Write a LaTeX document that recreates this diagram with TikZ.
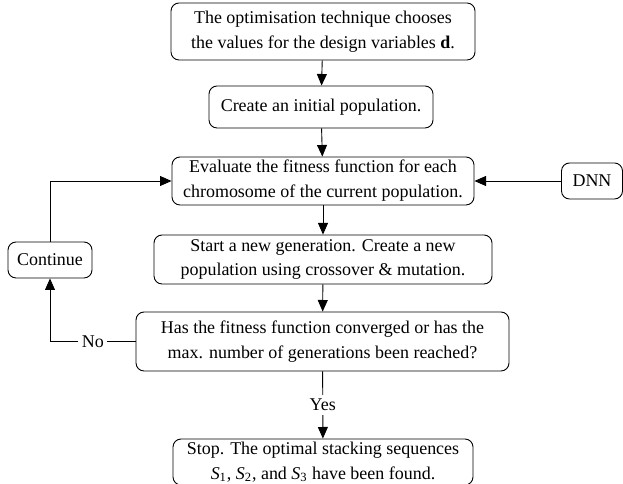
\documentclass[tikz,border=0pt]{standalone}
\usepackage{fontspec}
\setmainfont{Liberation Serif}
\usetikzlibrary{arrows.meta}
\begin{document}
\begin{tikzpicture}[x=0.5625pt,y=-0.5625pt,
  box/.style={draw,rounded corners=4.5pt,line width=0.5pt,align=center,inner sep=0pt,font=\fontsize{10.1}{14}\selectfont},
  arr/.style={-{Triangle[length=6.5pt,width=5.6pt]},line width=0.5pt},
  lab/.style={fill=white,inner sep=2pt,font=\fontsize{10.1}{14}\selectfont}]
\useasboundingbox (0,0) rectangle (623,484);
\node[box,minimum width=304*0.5625pt,minimum height=57*0.5625pt] (b1) at (323,31.5)
  {The optimisation technique chooses\\the values for the design variables \textbf{d}.};
\node[box,minimum width=224*0.5625pt,minimum height=42*0.5625pt] (b2) at (321,107)
  {Create an initial population.};
\node[box,minimum width=302*0.5625pt,minimum height=48*0.5625pt] (b3) at (323,181)
  {Evaluate the fitness function for each\\chromosome of the current population.};
\node[box,minimum width=338*0.5625pt,minimum height=49*0.5625pt] (b4) at (323,259.5)
  {Start a new generation. Create a new\\population using crossover \& mutation.};
\node[box,minimum width=373*0.5625pt,minimum height=59*0.5625pt] (b5) at (322.5,341.5)
  {Has the fitness function converged or has the\\max. number of generations been reached?};
\node[box,minimum width=300*0.5625pt,minimum height=46*0.5625pt] (b6) at (323,462)
  {Stop. The optimal stacking sequences\\\textit{S}\textsubscript{1}, \textit{S}\textsubscript{2}, and \textit{S}\textsubscript{3} have been found.};
\node[box,minimum width=84*0.5625pt,minimum height=36*0.5625pt] (cont) at (50,260) {Continue};
\node[box,minimum width=61*0.5625pt,minimum height=36*0.5625pt] (dnn) at (592,181) {DNN};
\draw[arr] (b1) -- (b2);
\draw[arr] (b2) -- (b3);
\draw[arr] (b3) -- (b4);
\draw[arr] (b4) -- (b5);
\draw[arr] (b5) -- node[lab]{Yes} (b6);
\draw[arr] (dnn) -- (b3);
\coordinate (nocorner) at (cont.south |- b5.west);
\draw[arr] (b5.west) -- node[lab]{No} (nocorner) -- (cont.south);
\draw[arr] (cont.north) |- (b3.west);
\end{tikzpicture}
\end{document}
